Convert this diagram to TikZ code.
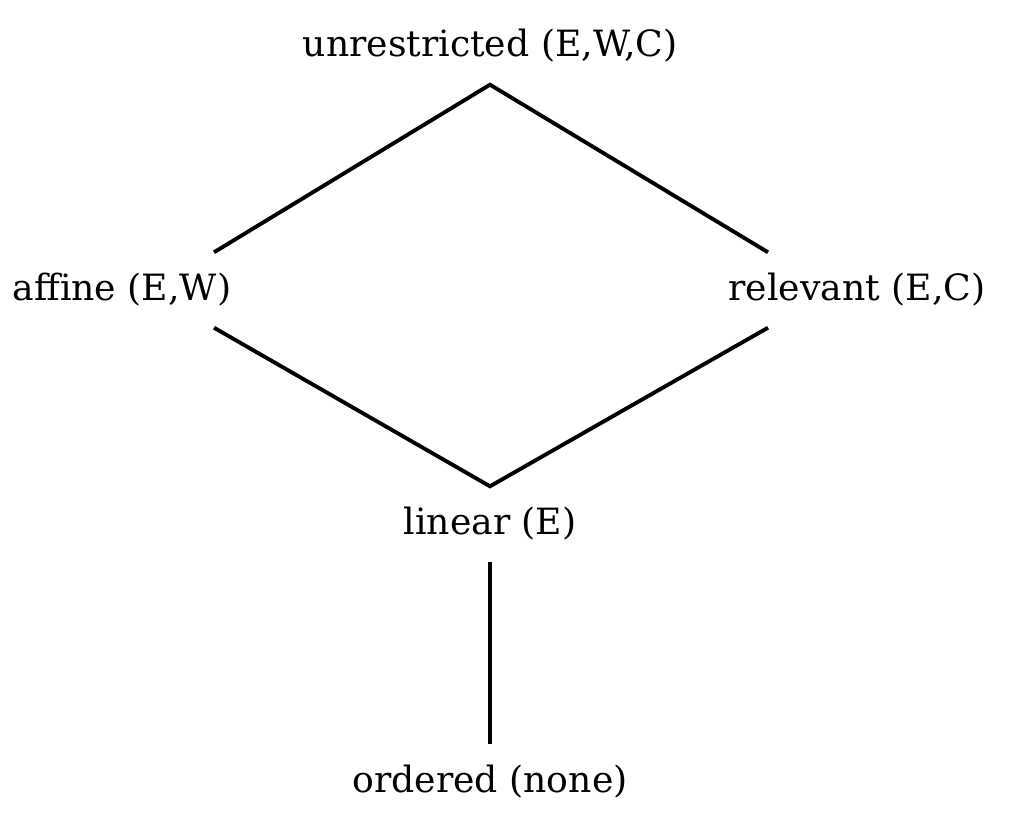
\documentclass[tikz,border=0pt]{standalone}
\usepackage{fontspec}
\setmainfont{DejaVu Serif}
\usepackage{tikz}

\tikzset{
  lattice/.style={anchor=base, inner sep=0.17cm, text height=0.3cm, text depth=0.1cm, font=\fontsize{10.3}{12}\selectfont},
  edge/.style={line width=1.1pt}
}

\begin{document}
\begin{tikzpicture}
\useasboundingbox (0,0) rectangle (10.14,8.28);
% top of the lattice
\node[lattice] (unres) at (4.90,7.71) {unrestricted (E,W,C)};
% middle row
\node[lattice] (affine) at (1.22,5.28) {affine (E,W)};
\node[lattice] (relev) at (8.57,5.28) {relevant (E,C)};
% bottom
\node[lattice] (linear) at (4.90,2.94) {linear (E)};
\node[lattice] (ordered) at (4.90,0.36) {ordered (none)};
% Edges
\draw[edge] ([xshift=0.92cm]affine.north) -- (unres.south) -- ([xshift=-0.89cm]relev.north);
\draw[edge] ([xshift=0.92cm]affine.south) -- (linear.north) -- ([xshift=-0.89cm]relev.south);
\draw[edge] (linear.south) -- (ordered.north);
\end{tikzpicture}
\end{document}
